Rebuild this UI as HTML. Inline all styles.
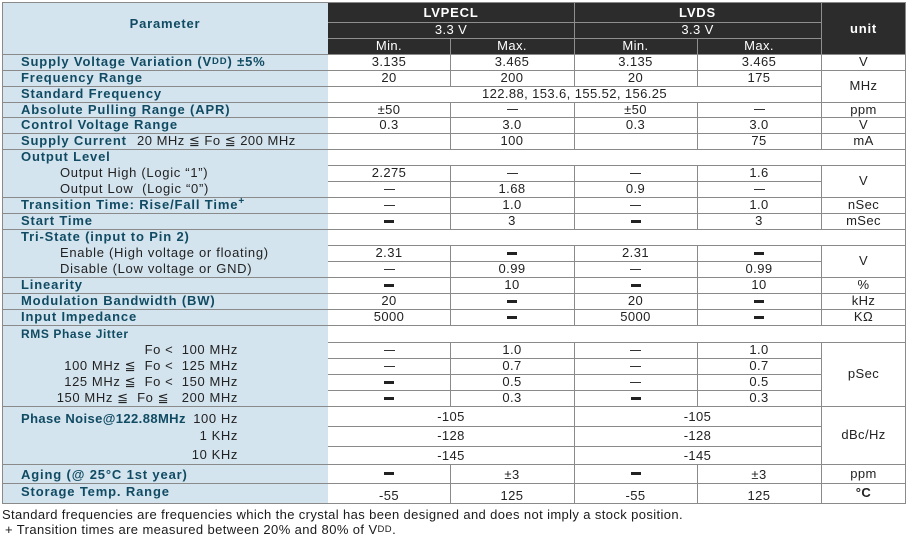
<!DOCTYPE html>
<html>
<head>
<meta charset="utf-8">
<style>
body{margin:0;background:#fff;}
#w{position:relative;width:910px;height:539px;overflow:hidden;background:#fff;font-family:"Liberation Sans",Arial,"DejaVu Sans",sans-serif;}
.bg{position:absolute;}
.h{position:absolute;height:1px;background:#8a8a8a;}
.v{position:absolute;width:1px;background:#8a8a8a;}
.hd{background:#8e8e8e;}
.t{position:absolute;display:flex;align-items:center;justify-content:center;font-size:13px;color:#222;letter-spacing:.4px;white-space:pre;line-height:16px;}
.c1{left:328px;width:122px}
.c2{left:450px;width:124px}
.c3{left:574px;width:123px}
.c4{left:697px;width:124px}
.u{left:821px;width:85px}
.m12{left:328px;width:246px}
.m34{left:574px;width:247px}
.m14{left:328px;width:493px}
.p{left:21px;width:305px;justify-content:flex-start;font-weight:bold;color:#104b63;letter-spacing:.85px}
.s{left:60px;width:262px;justify-content:flex-start;letter-spacing:.7px}
.rr{left:0;width:238px;justify-content:flex-end;letter-spacing:.6px}
.wh{color:#fff;}
.d{display:inline-block;width:11px;height:1px;background:#333;}
.k{display:inline-block;width:10px;height:3px;background:#222;}
.sm{font-size:9.5px;}
</style>
</head>
<body>
<div id="w">
<!-- backgrounds -->
<div class="bg" style="left:2px;top:2px;width:326px;height:501px;background:#d4e4ee"></div>
<div class="bg" style="left:328px;top:2px;width:578px;height:52px;background:#2c2c2c"></div>

<!-- horizontal lines -->
<div class="h" style="left:2px;width:904px;top:2px"></div>
<div class="h hd" style="left:328px;width:493px;top:22px"></div>
<div class="h hd" style="left:328px;width:493px;top:38px"></div>
<div class="h" style="left:2px;width:904px;top:54px"></div>
<div class="h" style="left:2px;width:904px;top:70px"></div>
<div class="h" style="left:2px;width:819px;top:86px"></div>
<div class="h" style="left:2px;width:904px;top:102px"></div>
<div class="h" style="left:2px;width:904px;top:117px"></div>
<div class="h" style="left:2px;width:904px;top:133px"></div>
<div class="h" style="left:2px;width:904px;top:149px"></div>
<div class="h" style="left:328px;width:578px;top:165px"></div>
<div class="h" style="left:328px;width:493px;top:181px"></div>
<div class="h" style="left:2px;width:904px;top:197px"></div>
<div class="h" style="left:2px;width:904px;top:213px"></div>
<div class="h" style="left:2px;width:904px;top:229px"></div>
<div class="h" style="left:328px;width:578px;top:245px"></div>
<div class="h" style="left:328px;width:493px;top:261px"></div>
<div class="h" style="left:2px;width:904px;top:277px"></div>
<div class="h" style="left:2px;width:904px;top:293px"></div>
<div class="h" style="left:2px;width:904px;top:309px"></div>
<div class="h" style="left:2px;width:904px;top:325px"></div>
<div class="h" style="left:328px;width:578px;top:342px"></div>
<div class="h" style="left:328px;width:493px;top:358px"></div>
<div class="h" style="left:328px;width:493px;top:374px"></div>
<div class="h" style="left:328px;width:493px;top:390px"></div>
<div class="h" style="left:2px;width:904px;top:406px"></div>
<div class="h" style="left:328px;width:493px;top:426px"></div>
<div class="h" style="left:328px;width:493px;top:446px"></div>
<div class="h" style="left:2px;width:904px;top:464px"></div>
<div class="h" style="left:2px;width:904px;top:483px"></div>
<div class="h" style="left:2px;width:904px;top:503px"></div>

<!-- vertical lines -->
<div class="v" style="left:2px;top:2px;height:502px"></div>
<div class="v" style="left:905px;top:2px;height:502px"></div>
<!-- x=821 -->
<div class="v hd" style="left:821px;top:2px;height:52px"></div>
<div class="v" style="left:821px;top:54px;height:95px"></div>
<div class="v" style="left:821px;top:165px;height:64px"></div>
<div class="v" style="left:821px;top:245px;height:80px"></div>
<div class="v" style="left:821px;top:342px;height:161px"></div>
<!-- x=574 -->
<div class="v hd" style="left:574px;top:2px;height:52px"></div>
<div class="v" style="left:574px;top:54px;height:32px"></div>
<div class="v" style="left:574px;top:102px;height:47px"></div>
<div class="v" style="left:574px;top:165px;height:64px"></div>
<div class="v" style="left:574px;top:245px;height:80px"></div>
<div class="v" style="left:574px;top:342px;height:161px"></div>
<!-- x=450 -->
<div class="v hd" style="left:450px;top:38px;height:16px"></div>
<div class="v" style="left:450px;top:54px;height:32px"></div>
<div class="v" style="left:450px;top:102px;height:47px"></div>
<div class="v" style="left:450px;top:165px;height:64px"></div>
<div class="v" style="left:450px;top:245px;height:80px"></div>
<div class="v" style="left:450px;top:342px;height:64px"></div>
<div class="v" style="left:450px;top:464px;height:39px"></div>
<!-- x=697 -->
<div class="v hd" style="left:697px;top:38px;height:16px"></div>
<div class="v" style="left:697px;top:54px;height:32px"></div>
<div class="v" style="left:697px;top:102px;height:47px"></div>
<div class="v" style="left:697px;top:165px;height:64px"></div>
<div class="v" style="left:697px;top:245px;height:80px"></div>
<div class="v" style="left:697px;top:342px;height:64px"></div>
<div class="v" style="left:697px;top:464px;height:39px"></div>

<!-- header -->
<div class="t" style="left:2px;width:326px;top:15px;height:18px;font-weight:bold;color:#104b63;letter-spacing:.8px">Parameter</div>
<div class="t m12 wh" style="top:3px;height:19px;font-weight:bold;letter-spacing:.8px">LVPECL</div>
<div class="t m34 wh" style="top:3px;height:19px;font-weight:bold;letter-spacing:.8px">LVDS</div>
<div class="t m12 wh" style="top:22px;height:16px">3.3 V</div>
<div class="t m34 wh" style="top:22px;height:16px">3.3 V</div>
<div class="t c1 wh" style="top:38px;height:16px">Min.</div>
<div class="t c2 wh" style="top:38px;height:16px">Max.</div>
<div class="t c3 wh" style="top:38px;height:16px">Min.</div>
<div class="t c4 wh" style="top:38px;height:16px">Max.</div>
<div class="t u wh" style="top:20px;height:18px;font-weight:bold;letter-spacing:.8px">unit</div>

<!-- R1 -->
<div class="t p" style="top:54px;height:16px">Supply Voltage Variation (V<span class="sm">DD</span>) ±5%</div>
<div class="t c1" style="top:54px;height:16px">3.135</div>
<div class="t c2" style="top:54px;height:16px">3.465</div>
<div class="t c3" style="top:54px;height:16px">3.135</div>
<div class="t c4" style="top:54px;height:16px">3.465</div>
<div class="t u" style="top:54px;height:16px">V</div>
<!-- R2 -->
<div class="t p" style="top:70px;height:16px">Frequency Range</div>
<div class="t c1" style="top:70px;height:16px">20</div>
<div class="t c2" style="top:70px;height:16px">200</div>
<div class="t c3" style="top:70px;height:16px">20</div>
<div class="t c4" style="top:70px;height:16px">175</div>
<div class="t u" style="top:70px;height:32px">MHz</div>
<!-- R3 -->
<div class="t p" style="top:86px;height:16px">Standard Frequency</div>
<div class="t m14" style="top:86px;height:16px">122.88, 153.6, 155.52, 156.25</div>
<!-- R4 -->
<div class="t p" style="top:102px;height:15px">Absolute Pulling Range (APR)</div>
<div class="t c1" style="top:102px;height:15px">±50</div>
<div class="t c2" style="top:102px;height:15px"><i class="d"></i></div>
<div class="t c3" style="top:102px;height:15px">±50</div>
<div class="t c4" style="top:102px;height:15px"><i class="d"></i></div>
<div class="t u" style="top:102px;height:15px">ppm</div>
<!-- R5 -->
<div class="t p" style="top:117px;height:16px">Control Voltage Range</div>
<div class="t c1" style="top:117px;height:16px">0.3</div>
<div class="t c2" style="top:117px;height:16px">3.0</div>
<div class="t c3" style="top:117px;height:16px">0.3</div>
<div class="t c4" style="top:117px;height:16px">3.0</div>
<div class="t u" style="top:117px;height:16px">V</div>
<!-- R6 -->
<div class="t p" style="top:133px;height:16px">Supply Current</div>
<div class="t" style="left:137px;top:133px;height:16px;letter-spacing:.5px">20 MHz ≦ Fo ≦ 200 MHz</div>
<div class="t c2" style="top:133px;height:16px">100</div>
<div class="t c4" style="top:133px;height:16px">75</div>
<div class="t u" style="top:133px;height:16px">mA</div>
<!-- R7 -->
<div class="t p" style="top:149px;height:16px">Output Level</div>
<!-- R8 -->
<div class="t s" style="top:165px;height:16px">Output High (Logic “1”)</div>
<div class="t c1" style="top:165px;height:16px">2.275</div>
<div class="t c2" style="top:165px;height:16px"><i class="d"></i></div>
<div class="t c3" style="top:165px;height:16px"><i class="d"></i></div>
<div class="t c4" style="top:165px;height:16px">1.6</div>
<div class="t u" style="top:165px;height:32px">V</div>
<!-- R9 -->
<div class="t s" style="top:181px;height:16px">Output Low  (Logic “0”)</div>
<div class="t c1" style="top:181px;height:16px"><i class="d"></i></div>
<div class="t c2" style="top:181px;height:16px">1.68</div>
<div class="t c3" style="top:181px;height:16px">0.9</div>
<div class="t c4" style="top:181px;height:16px"><i class="d"></i></div>
<!-- R10 -->
<div class="t p" style="top:197px;height:16px">Transition Time: Rise/Fall Time<span style="font-size:10px;position:relative;top:-3px">+</span></div>
<div class="t c1" style="top:197px;height:16px"><i class="d"></i></div>
<div class="t c2" style="top:197px;height:16px">1.0</div>
<div class="t c3" style="top:197px;height:16px"><i class="d"></i></div>
<div class="t c4" style="top:197px;height:16px">1.0</div>
<div class="t u" style="top:197px;height:16px">nSec</div>
<!-- R11 -->
<div class="t p" style="top:213px;height:16px">Start Time</div>
<div class="t c1" style="top:213px;height:16px"><i class="k"></i></div>
<div class="t c2" style="top:213px;height:16px">3</div>
<div class="t c3" style="top:213px;height:16px"><i class="k"></i></div>
<div class="t c4" style="top:213px;height:16px">3</div>
<div class="t u" style="top:213px;height:16px">mSec</div>
<!-- R12 -->
<div class="t p" style="top:229px;height:16px">Tri-State (input to Pin 2)</div>
<!-- R13 -->
<div class="t s" style="top:245px;height:16px">Enable (High voltage or floating)</div>
<div class="t c1" style="top:245px;height:16px">2.31</div>
<div class="t c2" style="top:245px;height:16px"><i class="k"></i></div>
<div class="t c3" style="top:245px;height:16px">2.31</div>
<div class="t c4" style="top:245px;height:16px"><i class="k"></i></div>
<div class="t u" style="top:245px;height:32px">V</div>
<!-- R14 -->
<div class="t s" style="top:261px;height:16px">Disable (Low voltage or GND)</div>
<div class="t c1" style="top:261px;height:16px"><i class="d"></i></div>
<div class="t c2" style="top:261px;height:16px">0.99</div>
<div class="t c3" style="top:261px;height:16px"><i class="d"></i></div>
<div class="t c4" style="top:261px;height:16px">0.99</div>
<!-- R15 -->
<div class="t p" style="top:277px;height:16px">Linearity</div>
<div class="t c1" style="top:277px;height:16px"><i class="k"></i></div>
<div class="t c2" style="top:277px;height:16px">10</div>
<div class="t c3" style="top:277px;height:16px"><i class="k"></i></div>
<div class="t c4" style="top:277px;height:16px">10</div>
<div class="t u" style="top:277px;height:16px">%</div>
<!-- R16 -->
<div class="t p" style="top:293px;height:16px">Modulation Bandwidth (BW)</div>
<div class="t c1" style="top:293px;height:16px">20</div>
<div class="t c2" style="top:293px;height:16px"><i class="k"></i></div>
<div class="t c3" style="top:293px;height:16px">20</div>
<div class="t c4" style="top:293px;height:16px"><i class="k"></i></div>
<div class="t u" style="top:293px;height:16px">kHz</div>
<!-- R17 -->
<div class="t p" style="top:309px;height:16px">Input Impedance</div>
<div class="t c1" style="top:309px;height:16px">5000</div>
<div class="t c2" style="top:309px;height:16px"><i class="k"></i></div>
<div class="t c3" style="top:309px;height:16px">5000</div>
<div class="t c4" style="top:309px;height:16px"><i class="k"></i></div>
<div class="t u" style="top:309px;height:16px">KΩ</div>
<!-- R18 -->
<div class="t p" style="top:325px;height:17px;font-size:12px;letter-spacing:.6px">RMS Phase Jitter</div>
<!-- R19 -->
<div class="t rr" style="top:342px;height:16px">Fo &lt;  100 MHz</div>
<div class="t c1" style="top:342px;height:16px"><i class="d"></i></div>
<div class="t c2" style="top:342px;height:16px">1.0</div>
<div class="t c3" style="top:342px;height:16px"><i class="d"></i></div>
<div class="t c4" style="top:342px;height:16px">1.0</div>
<div class="t u" style="top:342px;height:64px">pSec</div>
<!-- R20 -->
<div class="t rr" style="top:358px;height:16px">100 MHz ≦  Fo &lt;  125 MHz</div>
<div class="t c1" style="top:358px;height:16px"><i class="d"></i></div>
<div class="t c2" style="top:358px;height:16px">0.7</div>
<div class="t c3" style="top:358px;height:16px"><i class="d"></i></div>
<div class="t c4" style="top:358px;height:16px">0.7</div>
<!-- R21 -->
<div class="t rr" style="top:374px;height:16px">125 MHz ≦  Fo &lt;  150 MHz</div>
<div class="t c1" style="top:374px;height:16px"><i class="k"></i></div>
<div class="t c2" style="top:374px;height:16px">0.5</div>
<div class="t c3" style="top:374px;height:16px"><i class="d"></i></div>
<div class="t c4" style="top:374px;height:16px">0.5</div>
<!-- R22 -->
<div class="t rr" style="top:390px;height:16px">150 MHz ≦  Fo ≦   200 MHz</div>
<div class="t c1" style="top:390px;height:16px"><i class="k"></i></div>
<div class="t c2" style="top:390px;height:16px">0.3</div>
<div class="t c3" style="top:390px;height:16px"><i class="k"></i></div>
<div class="t c4" style="top:390px;height:16px">0.3</div>
<!-- R23 -->
<div class="t p" style="top:409px;height:20px;letter-spacing:.4px">Phase Noise@122.88MHz</div>
<div class="t rr" style="top:409px;height:20px">100 Hz</div>
<div class="t m12" style="top:407px;height:20px">-105</div>
<div class="t m34" style="top:407px;height:20px">-105</div>
<div class="t u" style="top:406px;height:58px">dBc/Hz</div>
<!-- R24 -->
<div class="t rr" style="top:426px;height:20px">1 KHz</div>
<div class="t m12" style="top:426px;height:20px">-128</div>
<div class="t m34" style="top:426px;height:20px">-128</div>
<!-- R25 -->
<div class="t rr" style="top:446px;height:18px">10 KHz</div>
<div class="t m12" style="top:447px;height:18px">-145</div>
<div class="t m34" style="top:447px;height:18px">-145</div>
<!-- R26 -->
<div class="t p" style="top:465px;height:19px">Aging (@ 25°C 1st year)</div>
<div class="t c1" style="top:464px;height:19px"><i class="k"></i></div>
<div class="t c2" style="top:465px;height:19px">±3</div>
<div class="t c3" style="top:464px;height:19px"><i class="k"></i></div>
<div class="t c4" style="top:465px;height:19px">±3</div>
<div class="t u" style="top:464px;height:19px">ppm</div>
<!-- R27 -->
<div class="t p" style="top:482px;height:20px">Storage Temp. Range</div>
<div class="t c1" style="top:486px;height:20px">-55</div>
<div class="t c2" style="top:486px;height:20px">125</div>
<div class="t c3" style="top:486px;height:20px">-55</div>
<div class="t c4" style="top:486px;height:20px">125</div>
<div class="t u" style="top:483px;height:20px;font-weight:bold">°C</div>

<!-- footnotes -->
<div class="t" style="left:2px;top:507px;height:16px;justify-content:flex-start;letter-spacing:.38px;color:#1a1a1a">Standard frequencies are frequencies which the crystal has been designed and does not imply a stock position.</div>
<div class="t" style="left:5px;top:522px;height:16px;justify-content:flex-start;letter-spacing:.4px;color:#1a1a1a">+ Transition times are measured between 20% and 80% of V<span class="sm">DD</span>.</div>
</div>
</body>
</html>
